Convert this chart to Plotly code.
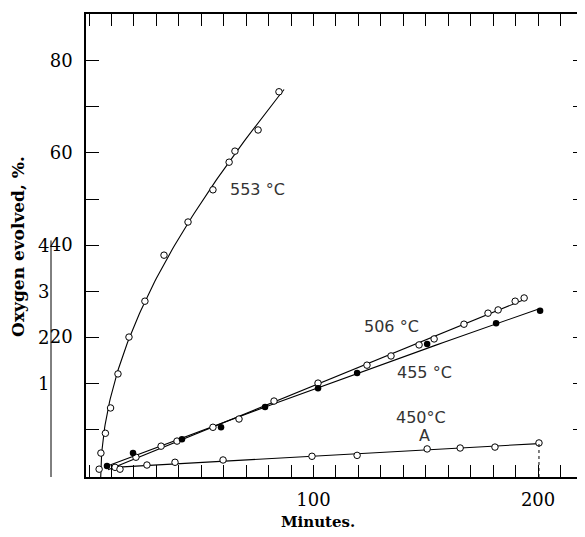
import numpy as np
import plotly.graph_objects as go

# ---- data (minutes, oxygen evolved %) ----
minutes_553 = [4.5, 5.3, 7.3, 9.6, 12.9, 17.8, 24.9, 33.4, 44.1, 55.2, 62.4, 65.0, 75.3, 84.6]
oxygen_553 = [-8.7, -5.2, -0.9, 4.6, 12.0, 20.0, 27.8, 37.8, 45.0, 52.0, 58.0, 60.4, 65.0, 73.3]

minutes_506 = [11.6, 20.9, 32.1, 39.2, 55.2, 66.8, 82.4, 102.0, 123.8, 134.5, 147.0, 153.7,
               167.0, 177.7, 182.2, 189.8, 193.8]
oxygen_506 = [-8.3, -6.1, -3.7, -2.6, 0.4, 2.2, 6.1, 10.0, 13.9, 15.9, 18.3, 19.6,
              22.8, 25.2, 25.9, 27.8, 28.5]

minutes_455 = [8.0, 19.6, 41.4, 58.8, 78.4, 102.0, 119.4, 150.6, 181.3, 200.9]
oxygen_455 = [-8.0, -5.2, -2.2, 0.4, 4.8, 8.9, 12.2, 18.5, 23.0, 25.7]

minutes_450 = [13.8, 25.8, 38.3, 59.7, 99.3, 119.4, 150.6, 165.3, 180.8, 200.4]
oxygen_450 = [-8.7, -7.8, -7.2, -6.7, -5.9, -5.7, -4.3, -4.1, -3.9, -3.0]

# extents of the drawn curves
curve553_oxygen_range = (-10.4, 73.8)
line506_minutes_range = (8.5, 195.0)
line455_minutes_range = (6.7, 200.9)
line450_minutes_range = (13.0, 200.4)

x_ticks = list(range(0, 230, 10))
x_tick_labels = ["100" if v == 100 else "200" if v == 200 else "" for v in x_ticks]
y_ticks = list(range(0, 90, 10))
y_tick_labels = [str(v) if v in (20, 40, 60, 80) else "" for v in y_ticks]
sec_scale_vals = [10, 20, 30, 40]
sec_scale_labels = ["1", "2", "3", "4"]

X_RANGE = [-1.34, 220.9]
Y_RANGE = [-10.4, 90.2]

# page has an 8px body margin: figure is sized/placed to compensate
W, H = 577, 529
ML, MR, MT, MB = 78, 0, 6, 60
PW = W - ML - MR

def px_to_paper_x(px):
    return (px - 8 - ML) / PW

fig = go.Figure()

line_style = dict(color="black", width=1.1)
open_marker = dict(symbol="circle", size=6.5, color="white", line=dict(width=1, color="black"))
filled_marker = dict(symbol="circle", size=6.5, color="black")

# 553 curve: smooth fit of minutes as a function of oxygen
c553 = np.polyfit(oxygen_553, minutes_553, 3)
yy = np.linspace(curve553_oxygen_range[0], curve553_oxygen_range[1], 120)
fig.add_trace(go.Scatter(x=np.polyval(c553, yy), y=yy, mode="lines", line=line_style))
fig.add_trace(go.Scatter(x=minutes_553, y=oxygen_553, mode="markers", marker=open_marker))

def fit_line(xs, ys, rng, deg):
    c = np.polyfit(xs, ys, deg)
    xx = np.linspace(rng[0], rng[1], 60)
    return xx, np.polyval(c, xx)

for xs, ys, rng, deg in [(minutes_506, oxygen_506, line506_minutes_range, 1),
                         (minutes_455, oxygen_455, line455_minutes_range, 2),
                         (minutes_450, oxygen_450, line450_minutes_range, 1)]:
    xx, yv = fit_line(xs, ys, rng, deg)
    fig.add_trace(go.Scatter(x=xx, y=yv, mode="lines", line=line_style))

fig.add_trace(go.Scatter(x=minutes_506, y=oxygen_506, mode="markers", marker=open_marker))
fig.add_trace(go.Scatter(x=minutes_455, y=oxygen_455, mode="markers", marker=filled_marker))
fig.add_trace(go.Scatter(x=minutes_450, y=oxygen_450, mode="markers", marker=open_marker))

# dashed drop line at the last point of curve A
fig.add_trace(go.Scatter(x=[minutes_450[-1], minutes_450[-1]], y=[Y_RANGE[0], oxygen_450[-1]],
                         mode="lines", line=dict(color="black", width=1, dash="3px,3px")))

# invisible trace for the right-hand tick axis
fig.add_trace(go.Scatter(x=[X_RANGE[0]], y=[Y_RANGE[0]], yaxis="y2", mode="markers",
                         marker=dict(opacity=0), hoverinfo="skip"))

serif = "DejaVu Serif"
label_font = dict(family="DejaVu Sans", size=16, color="#333")

annotations = [
    dict(x=61.9, y=52.0, text="553 °C", xanchor="left", yanchor="middle"),
    dict(x=121.6, y=22.2, text="506 °C", xanchor="left", yanchor="middle"),
    dict(x=136.3, y=12.2, text="455 °C", xanchor="left", yanchor="middle"),
    dict(x=147.9, y=2.5, text="450°C", xanchor="center", yanchor="middle"),
    dict(x=149.2, y=-1.3, text="A", xanchor="center", yanchor="middle"),
]
for a in annotations:
    a.update(xref="x", yref="y", showarrow=False, font=label_font)

for v, t in zip(sec_scale_vals, sec_scale_labels):
    annotations.append(dict(x=px_to_paper_x(43), xref="paper", y=v, yref="y", text=t,
                            showarrow=False, xanchor="center", yanchor="middle",
                            font=dict(family=serif, size=18, color="black")))

annotations.append(dict(x=px_to_paper_x(18), xref="paper", y=0.497, yref="paper",
                        text="<b>Oxygen evolved, %.</b>", textangle=-90, showarrow=False,
                        xanchor="center", yanchor="middle",
                        font=dict(family=serif, size=17, color="black")))
annotations.append(dict(x=px_to_paper_x(318), xref="paper", y=-0.097, yref="paper",
                        text="<b>Minutes.</b>", showarrow=False,
                        xanchor="center", yanchor="middle",
                        font=dict(family=serif, size=15, color="black")))

fig.update_layout(
    width=W, height=H,
    margin=dict(l=ML, r=MR, t=MT, b=MB),
    paper_bgcolor="white", plot_bgcolor="white",
    showlegend=False,
    annotations=annotations,
    shapes=[dict(type="line", xref="paper", x0=px_to_paper_x(51), x1=px_to_paper_x(51),
                 yref="y", y0=-10.6, y1=41, line=dict(color="black", width=1))],
    xaxis=dict(range=X_RANGE, tickvals=x_ticks, ticktext=x_tick_labels,
               ticks="inside", ticklen=12, tickwidth=1, tickcolor="black",
               showline=True, linecolor="black", linewidth=1.5, mirror="ticks",
               showgrid=False, zeroline=False, ticklabelstandoff=6,
               tickfont=dict(family=serif, size=18, color="black")),
    yaxis=dict(range=Y_RANGE, tickvals=y_ticks, ticktext=y_tick_labels,
               ticks="inside", ticklen=13, tickwidth=1, tickcolor="black",
               showline=True, linecolor="black", linewidth=1.5,
               showgrid=False, zeroline=False, ticklabelstandoff=8,
               tickfont=dict(family=serif, size=18, color="black")),
    yaxis2=dict(range=Y_RANGE, overlaying="y", side="right", tickvals=y_ticks,
                ticks="inside", ticklen=12, tickwidth=1, tickcolor="black",
                showticklabels=False, showline=False, showgrid=False, zeroline=False),
)

fig.write_html("out.html")
